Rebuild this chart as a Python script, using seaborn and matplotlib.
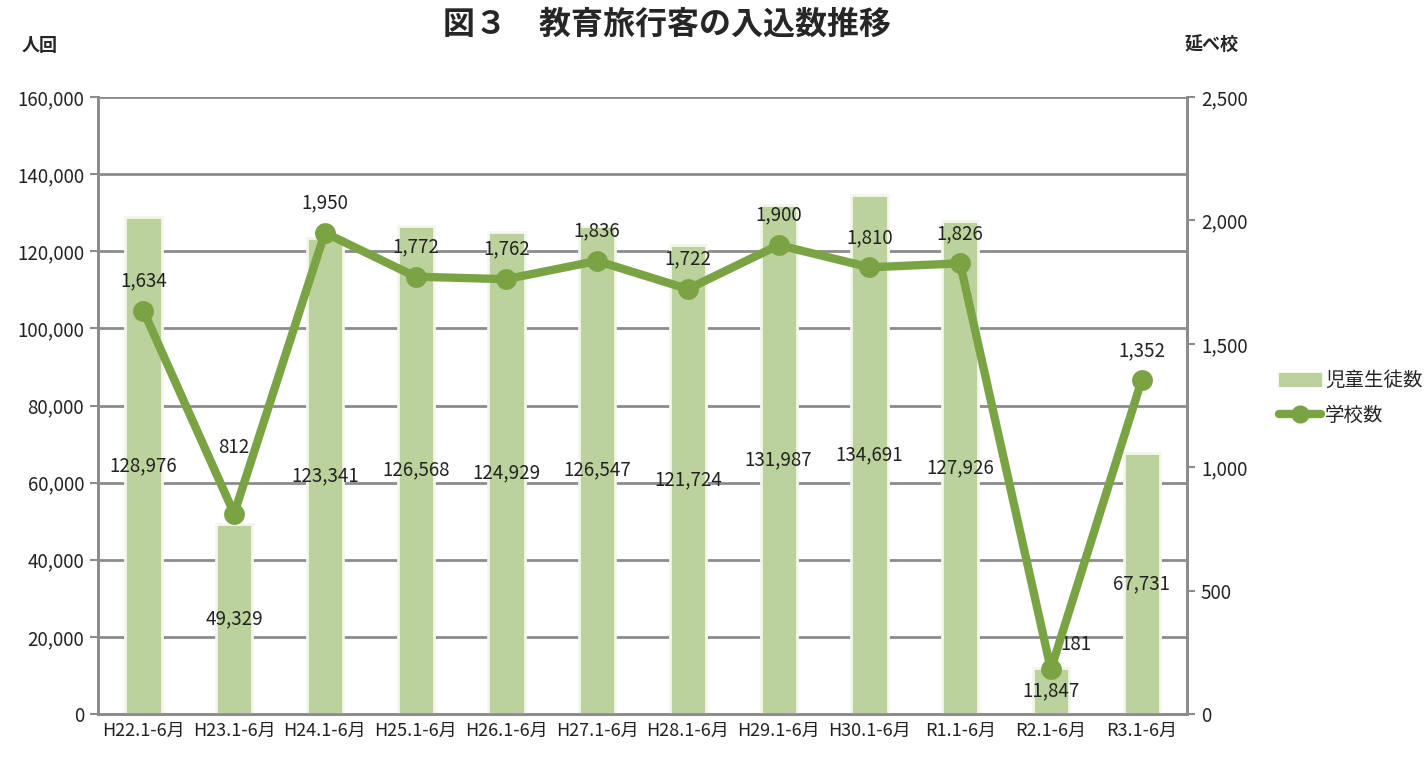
import numpy as np
import matplotlib
matplotlib.use("Agg")
import matplotlib.pyplot as plt
import seaborn as sns
from matplotlib.ticker import FuncFormatter, FixedLocator

sns.set_style("white")
plt.rcParams['font.family'] = ['Noto Sans CJK JP', 'DejaVu Sans']

periods = ["H22.1-6月", "H23.1-6月", "H24.1-6月", "H25.1-6月", "H26.1-6月", "H27.1-6月",
           "H28.1-6月", "H29.1-6月", "H30.1-6月", "R1.1-6月", "R2.1-6月", "R3.1-6月"]
students = [128976, 49329, 123341, 126568, 124929, 126547,
            121724, 131987, 134691, 127926, 11847, 67731]
schools = [1634, 812, 1950, 1772, 1762, 1836, 1722, 1900, 1810, 1826, 181, 1352]

bar_color = "#bcd29c"
line_color = "#7aa344"
grid_color = "#8c8c8c"

fig = plt.figure(figsize=(14.25, 7.58), dpi=100)
ax = fig.add_axes([0.0688, 0.058, 0.7642, 0.814])

sns.barplot(x=periods, y=students, color=bar_color, width=0.4, saturation=1,
            edgecolor="#f3f7ee", linewidth=2, ax=ax, zorder=3)
ax.set_ylim(0, 160000)
ax.set_yticks(np.arange(0, 160001, 20000))
ax.yaxis.set_major_formatter(FuncFormatter(lambda v, p: f"{int(v):,}"))
ax.grid(axis="y", color=grid_color, linewidth=2, zorder=0)
ax.set_axisbelow(True)
ax.set_xlim(-0.5, len(periods) - 0.5)

for c in ax.containers:
    ax.bar_label(c, labels=[f"{v:,}" for v in students], label_type="center",
                 fontsize=13.5, color="#222222", zorder=6)

ax2 = ax.twinx()
sns.lineplot(x=np.arange(len(periods)), y=schools, color=line_color, linewidth=6,
             marker="o", markersize=15, markeredgewidth=0, ax=ax2, zorder=5)
ax2.set_ylim(0, 2500)
ax2.set_yticks(np.arange(0, 2501, 500))
ax2.yaxis.set_major_formatter(FuncFormatter(lambda v, p: f"{int(v):,}"))
ax2.set_xlim(-0.5, len(periods) - 0.5)

offsets = {1: (0, 40), 10: (18, 10)}
for i, v in enumerate(schools):
    dx, dy = offsets.get(i, (0, 14))
    ax2.annotate(f"{v:,}", (i, v), xytext=(dx, dy), textcoords="offset points",
                 ha="center", va="bottom", fontsize=13.5, color="#222222")

# axes styling
for a in (ax, ax2):
    for s in a.spines.values():
        s.set_color(grid_color)
        s.set_linewidth(2)
    a.spines["top"].set_visible(False)
ax.tick_params(axis="y", length=6, width=1.5, color=grid_color, labelsize=13.5,
               labelcolor="#222222", pad=4)
ax2.tick_params(axis="y", length=6, width=1.5, color=grid_color, labelsize=13.5,
                labelcolor="#222222", pad=4)
ax.tick_params(axis="x", length=0, labelsize=13, labelcolor="#222222", pad=6)
ax.xaxis.set_minor_locator(FixedLocator(np.arange(-0.5, len(periods), 1)))
ax.tick_params(axis="x", which="minor", length=7, width=1.5, color=grid_color)
ax.set_xlabel("")
ax2.set_xlabel("")

fig.text(0.468, 0.968, "図３　教育旅行客の入込数推移", ha="center", va="center",
         fontsize=23, fontweight="bold")
fig.text(0.028, 0.94, "人回", ha="center", va="center", fontsize=13, fontweight="bold")
fig.text(0.85, 0.94, "延べ校", ha="center", va="center", fontsize=13, fontweight="bold")

handles = [plt.Rectangle((0, 0), 1, 1, color=bar_color),
           plt.Line2D([], [], color=line_color, linewidth=6, marker="o", markersize=12)]
fig.legend(handles, ["児童生徒数", "学校数"], loc="center left",
           bbox_to_anchor=(0.885, 0.475), frameon=False, fontsize=14,
           handlelength=2.2, handletextpad=0.2, labelspacing=0.7)

fig.savefig("out.png", dpi=100)
